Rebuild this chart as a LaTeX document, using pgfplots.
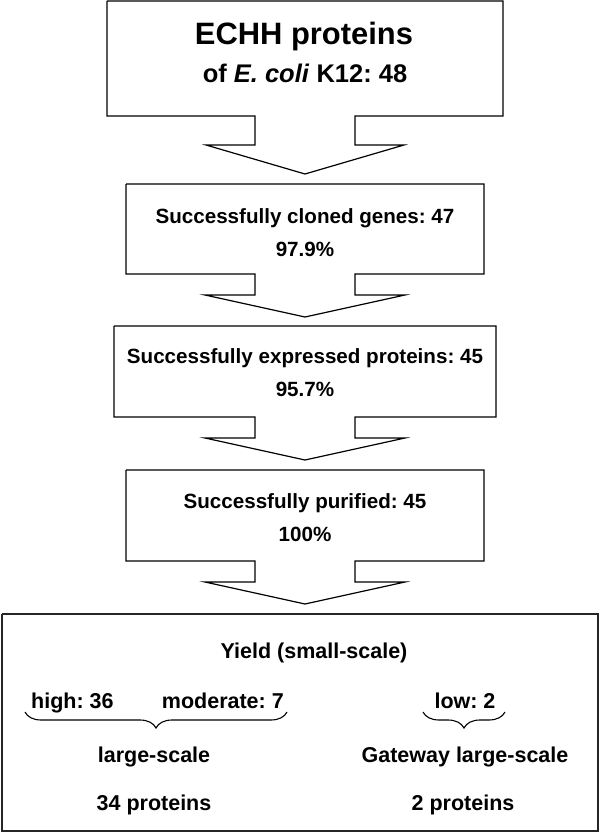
\documentclass[border=0pt]{standalone}
\usepackage{pgfplots}
\pgfplotsset{compat=1.18}
\usepackage{fontspec}
\setmainfont{Liberation Sans}
\usetikzlibrary{decorations.pathreplacing}
\frenchspacing
\newcommand{\fs}[1]{\fontsize{#1bp}{#1bp}\selectfont\bfseries\frenchspacing}
\begin{document}
\begin{tikzpicture}
\begin{axis}[
  width=600bp, height=834bp, scale only axis,
  xmin=0, xmax=600, ymin=0, ymax=834, y dir=reverse,
  hide axis, clip=false,
]
\addplot[draw=none] coordinates {(0,0) (600,834)};
% Box 1 with arrow
\addplot[black, line width=1.2bp] coordinates {
 (107,1) (503,1) (503,116) (355,116) (355,145) (404,145) (305,174)
 (206,145) (255,145) (255,116) (107,116) (107,1)};
% Box 2 with arrow
\addplot[black, line width=1.2bp] coordinates {
 (126,184) (484,184) (484,274) (355,274) (355,295) (405,295) (305,317)
 (205,295) (255,295) (255,274) (126,274) (126,184)};
% Box 3 with arrow
\addplot[black, line width=1.2bp] coordinates {
 (114,326) (496,326) (496,417) (355,417) (355,438) (405,438) (305,460)
 (205,438) (255,438) (255,417) (114,417) (114,326)};
% Box 4 with arrow
\addplot[black, line width=1.2bp] coordinates {
 (126,470) (484,470) (484,561) (355,561) (355,582) (405,582) (305,604)
 (205,582) (255,582) (255,561) (126,561) (126,470)};
% Box 5
\addplot[black!85, line width=2.2bp] coordinates {
 (2,614) (598,614) (598,831) (2,831) (2,614)};
% Braces
\addplot[black, line width=1.1bp, decorate, decoration={brace, mirror, amplitude=16bp}] coordinates {(25,712) (287,712)};
\addplot[black, line width=1.1bp, decorate, decoration={brace, mirror, amplitude=16bp}] coordinates {(423,712) (505,712)};
% Texts
\node[anchor=base] at (axis cs:304,45) {\fs{30.9}ECHH proteins};
\node[anchor=base] at (axis cs:305,83) {\fs{25.5}of \textit{E. coli} K12: 48};
\node[anchor=base] at (axis cs:305,223) {\fs{20.6}Successfully cloned genes: 47};
\node[anchor=base] at (axis cs:305,256) {\fs{20.6}97.9\%};
\node[anchor=base] at (axis cs:305,363) {\fs{20.6}Successfully expressed proteins: 45};
\node[anchor=base] at (axis cs:305,396) {\fs{20.6}95.7\%};
\node[anchor=base] at (axis cs:305,508) {\fs{20.6}Successfully purified: 45};
\node[anchor=base] at (axis cs:305,541) {\fs{20.6}100\%};
\node[anchor=base] at (axis cs:314,658) {\fs{21.5}Yield (small-scale)};
\node[anchor=base west, inner sep=0pt] at (axis cs:31,708) {\fs{21.5}high: 36};
\node[anchor=base east, inner sep=0pt] at (axis cs:284,708) {\fs{21.5}moderate: 7};
\node[anchor=base] at (axis cs:465,708) {\fs{21.5}low: 2};
\node[anchor=base] at (axis cs:154,762) {\fs{21.5}large-scale};
\node[anchor=base] at (axis cs:465,762) {\fs{21.5}Gateway large-scale};
\node[anchor=base] at (axis cs:154,810) {\fs{21.5}34 proteins};
\node[anchor=base] at (axis cs:463,810) {\fs{21.5}2 proteins};
\end{axis}
\end{tikzpicture}
\end{document}
